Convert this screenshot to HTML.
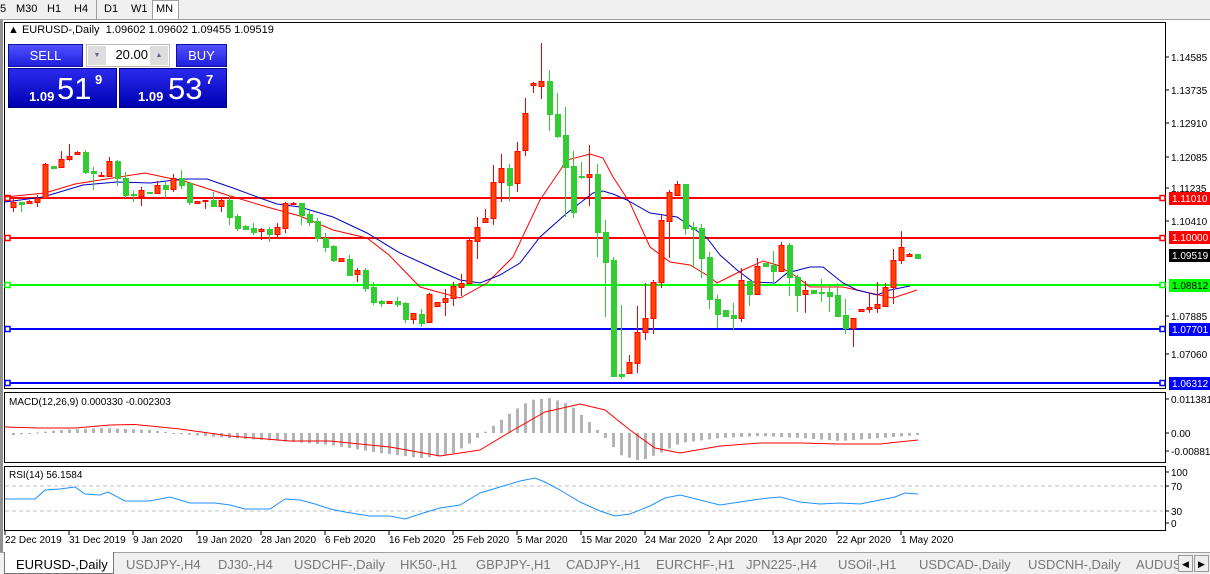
<!DOCTYPE html>
<html><head><meta charset="utf-8"><style>
*{margin:0;padding:0;box-sizing:border-box}
body{width:1210px;height:574px;overflow:hidden;background:#f0f0f0;font-family:"Liberation Sans",Arial,sans-serif;position:relative}
.tb{position:absolute;top:0;left:0;width:1210px;height:20px;background:#f0f0f0;border-bottom:1px solid #a0a0a0;font-size:11px}
.tb span{position:absolute;top:3px}
.win{position:absolute;left:0;top:20px;width:1210px;height:532px;background:#fff}
.tabs{position:absolute;left:0;top:552px;width:1210px;height:22px;background:#f0f0f0;border-top:1px solid #a0a0a0;font-size:13px;color:#777}
.tabs span{position:absolute;top:4px}
.btn{position:absolute;color:#fff;font-size:13px;text-align:center;line-height:22px;background:linear-gradient(#5050ff,#2020dd);border:1px solid #1010a0}
.big{position:absolute;background:linear-gradient(#2a2aee,#0000b0);border:1px solid #000080;color:#fff}
</style></head><body>
<div class="tb">
<span style="left:0px">5</span><span style="left:16px">M30</span><span style="left:47px">H1</span><span style="left:74px">H4</span>
<div style="position:absolute;left:96px;top:0;width:1px;height:20px;background:#a0a0a0"></div>
<span style="left:104px">D1</span><span style="left:131px">W1</span>
<div style="position:absolute;left:152px;top:0;width:27px;height:20px;background:#fff;border:1px solid #a0a0a0"></div>
<span style="left:156px">MN</span>
</div>
<div class="win">
<svg width="1210" height="532" style="position:absolute;left:0;top:0" id="s" font-family="Liberation Sans,Arial,sans-serif"></svg>
</div>
<div style="position:absolute;left:8px;top:24px;font-size:11px;color:#000">&#9650; EURUSD-,Daily&nbsp; 1.09602 1.09602 1.09455 1.09519</div>
<div class="btn" style="left:8px;top:44px;width:75px;height:23px">SELL</div>
<div style="position:absolute;left:86px;top:44px;width:84px;height:23px;background:#fff;border:1px solid #bbb"></div>
<div style="position:absolute;left:88px;top:46px;width:18px;height:19px;background:#ddd;font-size:7px;color:#668;text-align:center;line-height:19px">&#9660;</div>
<div style="position:absolute;left:150px;top:46px;width:18px;height:19px;background:#ddd;font-size:7px;color:#668;text-align:center;line-height:19px">&#9650;</div>
<div style="position:absolute;left:88px;top:47px;width:60px;text-align:right;font-size:13px">20.00</div>
<div class="btn" style="left:176px;top:44px;width:51px;height:23px">BUY</div>
<div class="big" style="left:8px;top:68px;width:109px;height:40px"><span style="position:absolute;left:20px;top:20px;font-size:13px;font-weight:bold">1.09</span><span style="position:absolute;left:48px;top:2px;font-size:31px">51</span><span style="position:absolute;left:86px;top:3px;font-size:13px;font-weight:bold">9</span></div>
<div class="big" style="left:119px;top:68px;width:108px;height:40px"><span style="position:absolute;left:18px;top:20px;font-size:13px;font-weight:bold">1.09</span><span style="position:absolute;left:48px;top:2px;font-size:31px">53</span><span style="position:absolute;left:86px;top:3px;font-size:13px;font-weight:bold">7</span></div>
<div class="tabs">
<div style="position:absolute;left:4px;top:-1px;width:110px;height:22px;background:#fff;border:1px solid #777;border-top:none"></div>
<span style="left:16px;color:#000">EURUSD-,Daily</span>
<span style="left:126px">USDJPY-,H4</span><span style="left:218px">DJ30-,H4</span><span style="left:294px">USDCHF-,Daily</span><span style="left:400px">HK50-,H1</span><span style="left:476px">GBPJPY-,H1</span><span style="left:566px">CADJPY-,H1</span><span style="left:656px">EURCHF-,H1</span><span style="left:746px">JPN225-,H4</span><span style="left:838px">USOil-,H1</span><span style="left:919px">USDCAD-,Daily</span><span style="left:1028px">USDCNH-,Daily</span><span style="left:1136px">AUDUS</span>
<div style="position:absolute;left:1178px;top:2px;width:15px;height:17px;border:1px solid #999;background:#eee;font-size:9px;color:#000;text-align:center;line-height:16px">&#9664;</div>
<div style="position:absolute;left:1194px;top:2px;width:15px;height:17px;border:1px solid #999;background:#eee;font-size:9px;color:#000;text-align:center;line-height:16px">&#9654;</div>
</div>
<script>
var s=document.getElementById('s'),o='',T=-20;
function Y(y){return y+T}
function L(x1,y1,x2,y2,c,w,d){o+='<line x1="'+x1+'" y1="'+Y(y1)+'" x2="'+x2+'" y2="'+Y(y2)+'" stroke="'+c+'" stroke-width="'+(w||1)+'"'+(d?' stroke-dasharray="'+d+'"':'')+'/>';}
function R(x,y,w,h,f,st){o+='<rect x="'+x+'" y="'+Y(y)+'" width="'+w+'" height="'+h+'" fill="'+f+'"'+(st?' stroke="'+st+'"':'')+'/>';}
function Tx(x,y,t,c,sz,a){o+='<text x="'+x+'" y="'+Y(y)+'" fill="'+(c||'#000')+'" font-size="'+(sz||10)+'"'+(a?' text-anchor="'+a+'"':'')+'>'+t+'</text>';}
function P(pts,c,w){o+='<polyline fill="none" stroke="'+c+'" stroke-width="'+(w||1)+'" points="'+pts.map(function(p){return p[0]+','+Y(p[1])}).join(' ')+'"/>';}
R(0,20,3,532,'#909090');
o+='<rect x="4.5" y="'+Y(22.5)+'" width="1161" height="366" fill="#fff" stroke="#000"/>';
o+='<rect x="4.5" y="'+Y(392.5)+'" width="1161" height="70" fill="#fff" stroke="#000"/>';
o+='<rect x="4.5" y="'+Y(466.5)+'" width="1161" height="64" fill="#fff" stroke="#000"/>';
[[198,'#ff0000'],[238,'#ff0000'],[285,'#00ff00'],[329,'#0000ff'],[383,'#0000ff']].forEach(function(h){L(5,h[0],1163,h[0],h[1],2);o+='<rect x="5" y="'+Y(h[0]-2.5)+'" width="5" height="5" fill="#fff" stroke="'+h[1]+'" stroke-width="1.5"/>';o+='<rect x="1160" y="'+Y(h[0]-2.5)+'" width="5" height="5" fill="#fff" stroke="'+h[1]+'" stroke-width="1.5"/>';});
P([[5,197],[45,193],[75,184],[100,180],[145,173],[187,182],[227,195],[267,207],[300,216],[333,230],[367,238],[389,255],[420,287],[460,298],[487,283],[513,257],[540,200],[567,160],[590,154],[603,158],[613,177],[630,203],[650,247],[670,262],[690,265],[710,277],[717,283],[743,270],[763,261],[777,265],[797,277],[810,287],[843,287],[870,293],[893,298],[917,290]],'#ff0000');
P([[5,202],[43,197],[83,185],[117,182],[150,183],[183,179],[207,179],[233,188],[260,198],[277,204],[300,207],[333,217],[367,233],[400,253],[433,268],[460,280],[480,283],[500,275],[520,263],[540,237],[567,213],[593,193],[603,191],[613,194],[627,200],[650,213],[677,217],[693,228],[707,238],[720,255],[737,270],[753,282],[775,283],[787,273],[810,267],[823,267],[843,283],[857,290],[877,295],[890,290],[910,286]],'#0000c0');
var C=[[13,202,207,198,212,'r'],[21,202,204,202,212,'g'],[29,201,203,200,204,'r'],[37,198,202,195,207,'r'],[45,164,198,163,199,'r'],[53,166,168,166,169,'g'],[61,159,167,151,167,'r'],[69,156,159,144,161,'r'],[77,152,154,151,155,'r'],[85,152,172,150,174,'g'],[93,171,173,167,190,'g'],[101,175,176,172,176,'r'],[109,161,176,157,176,'r'],[117,161,178,160,186,'g'],[125,178,195,172,198,'g'],[133,194,195,191,202,'g'],[141,190,196,187,206,'r'],[149,192,193,192,193,'g'],[157,185,193,181,193,'r'],[165,185,189,182,198,'g'],[173,178,189,174,192,'r'],[181,178,185,170,189,'g'],[189,183,202,182,205,'g'],[197,201,203,201,203,'r'],[205,200,201,200,209,'r'],[213,200,206,192,207,'g'],[221,200,206,199,212,'r'],[229,200,217,195,225,'g'],[237,216,228,214,231,'g'],[245,226,229,225,230,'g'],[253,228,232,223,235,'g'],[261,229,231,228,240,'r'],[269,229,234,227,242,'g'],[277,227,234,223,238,'r'],[285,203,228,202,233,'r'],[293,203,204,202,205,'r'],[301,203,215,203,225,'g'],[309,214,222,210,226,'g'],[317,221,238,218,242,'g'],[325,238,247,233,252,'g'],[333,246,260,245,262,'g'],[341,258,261,258,262,'r'],[349,259,275,255,276,'g'],[357,270,274,268,282,'r'],[365,270,288,268,292,'g'],[373,287,302,282,305,'g'],[381,301,303,300,307,'g'],[389,301,303,301,304,'r'],[397,301,304,297,307,'g'],[405,303,319,302,323,'g'],[413,313,319,313,324,'r'],[421,314,323,309,327,'g'],[429,294,322,293,323,'r'],[437,302,306,302,307,'r'],[445,298,302,289,316,'r'],[453,286,298,282,306,'r'],[461,283,287,274,296,'r'],[469,240,283,237,284,'r'],[477,227,241,217,259,'r'],[485,218,222,209,222,'r'],[493,182,218,165,225,'r'],[501,168,182,154,202,'r'],[509,168,185,164,201,'g'],[517,151,183,142,192,'r'],[525,113,150,98,156,'r'],[533,83,85,82,93,'r'],[541,81,86,43,99,'r'],[549,81,114,70,131,'g'],[557,114,136,93,138,'g'],[565,135,167,107,217,'g'],[573,166,212,151,218,'g'],[581,176,177,162,179,'g'],[589,174,177,145,206,'r'],[597,174,232,164,257,'g'],[605,232,262,220,317,'g'],[613,260,376,257,377,'g'],[621,374,376,305,379,'g'],[629,362,373,355,373,'r'],[637,332,363,306,373,'r'],[645,318,332,283,340,'r'],[653,282,318,280,334,'r'],[661,220,282,215,288,'r'],[669,192,221,190,258,'r'],[677,184,195,181,195,'r'],[685,184,228,184,235,'g'],[693,227,229,222,268,'g'],[701,228,258,224,278,'g'],[709,257,299,252,309,'g'],[717,299,314,295,328,'g'],[725,310,316,310,317,'g'],[733,315,318,303,330,'g'],[741,280,318,268,322,'r'],[749,281,294,281,306,'g'],[757,266,294,258,294,'r'],[765,263,266,263,266,'g'],[773,265,271,251,282,'g'],[781,245,271,242,271,'r'],[789,245,277,243,296,'g'],[797,277,295,275,312,'g'],[805,290,294,281,313,'r'],[813,290,293,290,293,'g'],[821,292,293,279,302,'g'],[829,292,296,285,312,'g'],[837,295,316,283,317,'g'],[845,315,328,299,334,'g'],[853,318,328,318,347,'r'],[861,309,311,309,312,'r'],[869,307,309,293,313,'r'],[877,304,308,282,313,'r'],[885,287,306,283,306,'r'],[893,260,287,249,304,'r'],[901,247,260,231,264,'r'],[909,254,256,253,256,'r'],[917,254,258,254,259,'g']];
C.forEach(function(c){var col=c[5]=='r'?'#ff0000':'#32cd32';L(c[0]+0.5,c[3],c[0]+0.5,c[4],col,1);var h=Math.max(1,c[2]-c[1]);
if(c[5]=='r')o+='<rect x="'+(c[0]-2)+'" y="'+Y(c[1]+0.5)+'" width="5" height="'+h+'" fill="#ff4500" stroke="#ff0000"/>';
else R(c[0]-2,c[1],6,h+1,'#32cd32');});
var H=[[5,-3],[60,3],[100,5],[150,3],[180,-1],[230,-5],[280,-8],[330,-12],[380,-20],[420,-25],[450,-22],[470,-10],[490,5],[510,20],[530,33],[550,35],[570,28],[590,10],[605,-5],[620,-22],[640,-28],[660,-20],[680,-10],[720,-5],[760,-3],[800,-5],[840,-8],[880,-5],[918,-2]];
function ip(a,x){for(var i=1;i<a.length;i++){if(x<=a[i][0]){var t=(x-a[i-1][0])/(a[i][0]-a[i-1][0]);return a[i-1][1]+t*(a[i][1]-a[i-1][1]);}}return a[a.length-1][1];}
for(var x=13;x<=917;x+=8){var v=ip(H,x);if(v>=0)R(x-1,433-v,3,Math.max(1,v),'#b4b4b4');else R(x-1,433,3,Math.max(1,-v),'#b4b4b4');}
P([[5,427],[40,428],[75,428],[110,425],[135,424.5],[180,429],[230,436],[290,441],[330,441],[390,447],[440,456],[480,450],[510,432],[545,412],[580,404],[605,410],[630,430],[655,448],[680,453],[720,446],[760,443],[800,443],[840,444],[880,444],[918,440]],'#ff0000');
Tx(9,405,'MACD(12,26,9) 0.000330 -0.002303','#000',10);
L(5,486,1163,486,'#c0c0c0',1,'4,3');L(5,511,1163,511,'#c0c0c0',1,'4,3');
P([[5,499],[35,499],[45,490],[60,489],[75,487],[85,494],[100,495],[108,492],[125,501],[150,501],[170,497],[190,503],[215,503],[230,505],[245,509],[270,509],[285,499],[300,500],[315,504],[330,509],[345,512],[370,516],[390,516],[405,519],[420,514],[440,508],[460,505],[480,493],[500,487],[520,481],[535,478],[545,482],[560,490],[580,502],[600,511],[615,516],[630,514],[650,506],[665,498],[680,495],[700,500],[720,505],[740,502],[760,499],[780,497],[800,502],[820,504],[840,503],[860,504],[880,500],[895,497],[905,493],[918,494]],'#1e90ff');
Tx(9,478,'RSI(14) 56.1584','#000',10);
[[57,'1.14585'],[90,'1.13735'],[123,'1.12910'],[157,'1.12085'],[188,'1.11235'],[221,'1.10410'],[316,'1.07885'],[354,'1.07060']].forEach(function(a){L(1166,a[0],1169,a[0],'#000');Tx(1171,a[0]+4,a[1],'#000',10);});
[[198,'1.11010','#ff0000','#fff'],[237,'1.10000','#ff0000','#fff'],[255,'1.09519','#000','#fff'],[285,'1.08812','#00ff00','#000'],[329,'1.07701','#0000ff','#fff'],[383,'1.06312','#0000ff','#fff']].forEach(function(a){R(1169,a[0]-6,41,13,a[2]);Tx(1172,a[0]+4,a[1],a[3],10);});
[[399,'0.011381'],[433,'0.00'],[451,'-0.00881']].forEach(function(a){L(1166,a[0],1169,a[0],'#000');Tx(1171,a[0]+4,a[1],'#000',10);});
[[472,'100'],[486,'70'],[511,'30'],[523,'0']].forEach(function(a){L(1166,a[0],1169,a[0],'#000');Tx(1171,a[0]+4,a[1],'#000',10);});
['22 Dec 2019','31 Dec 2019','9 Jan 2020','19 Jan 2020','28 Jan 2020','6 Feb 2020','16 Feb 2020','25 Feb 2020','5 Mar 2020','15 Mar 2020','24 Mar 2020','2 Apr 2020','13 Apr 2020','22 Apr 2020','1 May 2020'].forEach(function(t,i){var x=5+64*i;L(x,531,x,535,'#000');Tx(x,543,t,'#000',10);});
s.innerHTML=o;
</script>
</body></html>
